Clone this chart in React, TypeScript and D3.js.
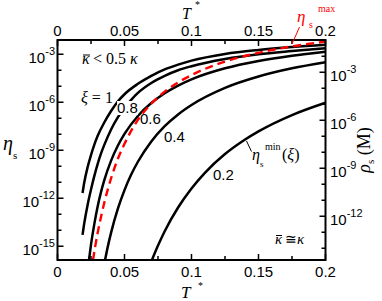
import React from "react";
import * as d3 from "d3";

// T* axis ticks
const xMajor = [0, 0.05, 0.1, 0.15, 0.2];
const xMajorLabels = ["0", "0.05", "0.1", "0.15", "0.2"];
const xMinor = [0.025, 0.075, 0.125, 0.175];

// log10 exponents of the left (eta_s) and right (rho_s) axes
const etaMajor = [-3, -6, -9, -12, -15];
const etaMinor = [-4, -5, -7, -8, -10, -11, -13, -14];
const rhoMajor = [-3, -6, -9, -12];
const rhoMinor = [-2, -4, -5, -7, -8, -10, -11, -13, -14];

// curves: T* and log10(eta_s)
const xi1T = [0.0187, 0.02, 0.0225, 0.025, 0.0275, 0.03, 0.035, 0.04, 0.045, 0.05, 0.06, 0.07, 0.08, 0.09, 0.1, 0.125, 0.15, 0.175, 0.2];
const xi1Eta = [-11.67, -11.0, -10.05, -9.3, -8.65, -8.1, -7.25, -6.55, -5.95, -5.5, -4.85, -4.35, -3.95, -3.65, -3.4, -2.98, -2.73, -2.55, -2.41];

const xi08T = [0.0187, 0.02, 0.0225, 0.025, 0.0275, 0.03, 0.0325, 0.035, 0.04, 0.045, 0.05, 0.055, 0.06, 0.07, 0.08, 0.09, 0.1, 0.125, 0.15, 0.175, 0.2];
const xi08Eta = [-14.29, -13.55, -12.4, -11.45, -10.6, -9.85, -9.2, -8.65, -7.7, -6.95, -6.35, -5.85, -5.42, -4.8, -4.35, -4.0, -3.75, -3.3, -3.0, -2.8, -2.625];

const xi06T = [0.0235, 0.025, 0.0275, 0.03, 0.0325, 0.035, 0.04, 0.045, 0.05, 0.06, 0.07, 0.08, 0.09, 0.1, 0.125, 0.15, 0.175, 0.2];
const xi06Eta = [-15.86, -14.9, -13.6, -12.5, -11.6, -10.85, -9.65, -8.72, -7.98, -6.86, -6.05, -5.44, -4.96, -4.57, -3.88, -3.42, -3.09, -2.84];

const xi04T = [0.0355, 0.0375, 0.04, 0.045, 0.05, 0.055, 0.06, 0.07, 0.08, 0.09, 0.1, 0.125, 0.15, 0.175, 0.2];
const xi04Eta = [-15.86, -15.04, -14.15, -12.67, -11.49, -10.52, -9.72, -8.45, -7.5, -6.76, -6.17, -5.1, -4.39, -3.88, -3.5];

const xi02T = [0.0705, 0.075, 0.08, 0.09, 0.1, 0.11, 0.125, 0.14, 0.15, 0.175, 0.2];
const xi02Eta = [-15.86, -14.96, -14.06, -12.58, -11.39, -10.41, -9.24, -8.33, -7.82, -6.8, -6.03];

const maxT = [0.0265, 0.028, 0.03, 0.0325, 0.035, 0.04, 0.045, 0.05, 0.06, 0.07, 0.08, 0.09, 0.1, 0.125, 0.15, 0.175, 0.2];
const maxEta = [-15.86, -15.08, -14.15, -13.15, -12.25, -10.75, -9.55, -8.6, -7.1, -6.09, -5.34, -4.76, -4.3, -3.46, -2.91, -2.51, -2.21];

const blackCurves = [
  { key: "1", t: xi1T, eta: xi1Eta },
  { key: "0.8", t: xi08T, eta: xi08Eta },
  { key: "0.6", t: xi06T, eta: xi06Eta },
  { key: "0.4", t: xi04T, eta: xi04Eta },
  { key: "0.2", t: xi02T, eta: xi02Eta },
];

const W = 382;
const H = 301;
const L = 57.5, R = 325.5, T = 40, B = 260;

const sans = "'Liberation Sans', Arial, Helvetica, sans-serif";
const serif = "'Liberation Serif', 'Times New Roman', serif";

const App = () => {
  const x = d3.scaleLinear().domain([0, 0.2]).range([L, R]);
  const yEta = d3.scaleLog().domain([10 ** -15.86, 10 ** -2.11]).range([B, T]);
  const yRho = d3.scaleLog().domain([10 ** -14.735, 10 ** -0.985]).range([B, T]);

  const line = d3
    .line<[number, number]>()
    .x((d) => x(d[0]))
    .y((d) => yEta(10 ** d[1]))
    .curve(d3.curveMonotoneX);

  const path = (t: number[], e: number[]) => line(t.map((v, i) => [v, e[i]] as [number, number])) || "";

  return (
    <svg width={W} height={H} style={{ position: "absolute", left: 0, top: 0, background: "#fff" }}>
      <defs>
        <clipPath id="plot">
          <rect x={L} y={T} width={R - L} height={B - T} />
        </clipPath>
      </defs>

      {/* curves */}
      <g clipPath="url(#plot)" fill="none">
        {blackCurves.map((c) => (
          <path key={c.key} d={path(c.t, c.eta)} stroke="#000" strokeWidth={2.5} />
        ))}
        <path d={path(maxT, maxEta)} stroke="#ff0000" strokeWidth={2.4} strokeDasharray="8,5" />
      </g>

      {/* gap behind the 0.8 label */}
      <rect x={117} y={101} width={21} height={14} fill="#fff" />

      {/* frame */}
      <rect x={L} y={T} width={R - L} height={B - T} fill="none" stroke="#000" strokeWidth={2} />

      {/* x ticks bottom and top */}
      {xMajor.map((v, i) => (
        <g key={`xm${v}`}>
          <line x1={x(v)} x2={x(v)} y1={B} y2={B - 6} stroke="#000" strokeWidth={1.5} />
          <line x1={x(v)} x2={x(v)} y1={T} y2={T + 6} stroke="#000" strokeWidth={1.5} />
          <text x={x(v)} y={277} fontSize={15} fontFamily={sans} textAnchor="middle">{xMajorLabels[i]}</text>
          <text x={x(v)} y={36} fontSize={15} fontFamily={sans} textAnchor="middle">{xMajorLabels[i]}</text>
        </g>
      ))}
      {xMinor.map((v) => (
        <g key={`xn${v}`}>
          <line x1={x(v)} x2={x(v)} y1={B} y2={B - 4} stroke="#000" strokeWidth={1.5} />
          <line x1={x(v)} x2={x(v)} y1={T} y2={T + 4} stroke="#000" strokeWidth={1.5} />
        </g>
      ))}

      {/* left axis */}
      {etaMajor.map((e) => {
        const y = yEta(10 ** e);
        return (
          <g key={`em${e}`}>
            <line x1={L} x2={L + 6} y1={y} y2={y} stroke="#000" strokeWidth={1.5} />
            <text x={55} y={y + 9} fontSize={15} fontFamily={sans} textAnchor="end">
              10<tspan fontSize={11} dy={-8}>{`-${-e}`}</tspan>
            </text>
          </g>
        );
      })}
      {etaMinor.map((e) => {
        const y = yEta(10 ** e);
        return <line key={`en${e}`} x1={L} x2={L + 4} y1={y} y2={y} stroke="#000" strokeWidth={1.5} />;
      })}

      {/* right axis */}
      {rhoMajor.map((e) => {
        const y = yRho(10 ** e);
        return (
          <g key={`rm${e}`}>
            <line x1={R} x2={R - 6} y1={y} y2={y} stroke="#000" strokeWidth={1.5} />
            <text x={330} y={y + 9} fontSize={15} fontFamily={sans}>
              10<tspan fontSize={11} dy={-8}>{`-${-e}`}</tspan>
            </text>
          </g>
        );
      })}
      {rhoMinor.map((e) => {
        const y = yRho(10 ** e);
        return <line key={`rn${e}`} x1={R} x2={R - 4} y1={y} y2={y} stroke="#000" strokeWidth={1.5} />;
      })}

      {/* axis titles */}
      <text x={182} y={19} fontSize={16} fontFamily={serif} fontStyle="italic">T</text>
      <text x={195} y={8} fontSize={10} fontFamily={serif}>*</text>
      <text x={181} y={298} fontSize={17} fontFamily={serif} fontStyle="italic">T</text>
      <text x={198} y={289} fontSize={10} fontFamily={serif}>*</text>

      <text x={3} y={150} fontSize={20} fontFamily={serif} fontStyle="italic">η</text>
      <text x={13} y={159} fontSize={11} fontFamily={serif}>s</text>

      <text transform="translate(370,150) rotate(-90)" fontSize={18} fontFamily={serif} textAnchor="middle">
        <tspan fontStyle="italic">ρ</tspan>
        <tspan fontSize={11} dy={4}>s</tspan>
        <tspan dy={-4}> (M)</tspan>
      </text>

      {/* annotations */}
      <text x={82} y={64} fontSize={16} fontFamily={serif} fontStyle="italic">κ</text>
      <line x1={83} x2={90} y1={55} y2={55} stroke="#000" strokeWidth={1} />
      <text x={93} y={64} fontSize={16} fontFamily={serif}>{"< 0.5"}</text>
      <text x={130} y={64} fontSize={16} fontFamily={serif} fontStyle="italic">κ</text>

      <text x={81} y={103} fontSize={16} fontFamily={serif}>
        <tspan fontStyle="italic">ξ</tspan> = 1
      </text>

      <text x={117} y={113} fontSize={15} fontFamily={sans}>0.8</text>
      <text x={140} y={124} fontSize={15} fontFamily={sans}>0.6</text>
      <text x={164} y={142} fontSize={15} fontFamily={sans}>0.4</text>
      <text x={213} y={180} fontSize={15} fontFamily={sans}>0.2</text>

      <line x1={246.5} y1={141} x2={251.5} y2={151.5} stroke="#000" strokeWidth={1} />
      <text x={252} y={160} fontSize={16} fontFamily={serif} fontStyle="italic">η</text>
      <text x={260} y={167} fontSize={9} fontFamily={serif}>s</text>
      <text x={265} y={150} fontSize={10} fontFamily={serif}>min</text>
      <text x={282} y={160} fontSize={16} fontFamily={serif}>
        (<tspan fontStyle="italic">ξ</tspan>)
      </text>

      <line x1={299.5} y1={27} x2={292} y2={44} stroke="#ff0000" strokeWidth={1} />
      <text x={297} y={22} fontSize={17} fontFamily={serif} fontStyle="italic" fill="#ff0000">η</text>
      <text x={309} y={28} fontSize={10} fontFamily={serif} fill="#ff0000">s</text>
      <text x={318} y={12} fontSize={10} fontFamily={serif} fill="#ff0000">max</text>

      <text x={275} y={244} fontSize={15} fontFamily={serif} fontStyle="italic">κ</text>
      <line x1={276} x2={282} y1={235.5} y2={235.5} stroke="#000" strokeWidth={1} />
      <text x={285} y={244} fontSize={14} fontFamily={serif}>≅</text>
      <text x={297} y={244} fontSize={15} fontFamily={serif} fontStyle="italic">κ</text>
    </svg>
  );
};

export default App;
